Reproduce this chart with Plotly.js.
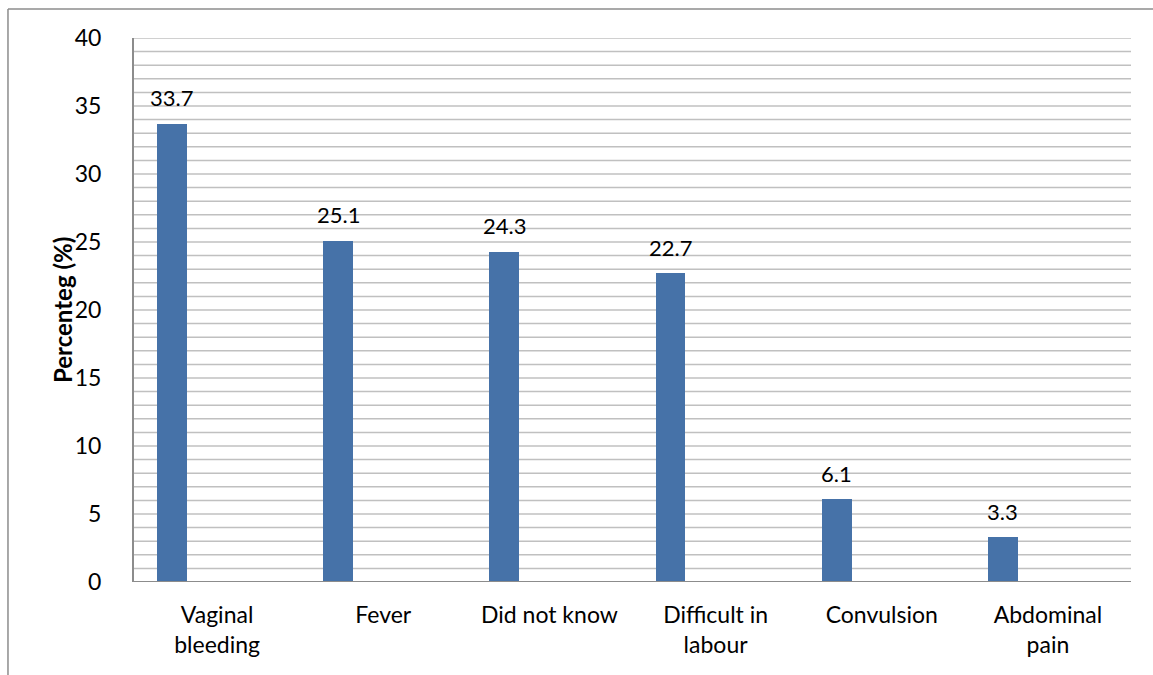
<!DOCTYPE html>
<html><head><meta charset="utf-8">
<script src="https://cdn.plot.ly/plotly-3.0.1.min.js"></script>
<style>html,body{margin:0;padding:0;background:#fff}#chart{width:1153px;height:675px}</style>
</head><body><div id="chart"></div>
<script>
const categories = ["Vaginal<br>bleeding", "Fever", "Did not know", "Difficult in<br>labour", "Convulsion", "Abdominal<br>pain"];
const values = [33.7, 25.1, 24.3, 22.7, 6.1, 3.3];
const labels = ["33.7", "25.1", "24.3", "22.7", "6.1", "3.3"];
const yTicks = [0, 5, 10, 15, 20, 25, 30, 35, 40];
const yTitle = "Percenteg (%)";

const font = "Lato, 'Open Sans', sans-serif";
const W = 0.1805, OFF = -0.3616;

const trace = {
  type: "bar", x: categories, y: values,
  width: W, offset: OFF,
  marker: {color: "#4672A8", line: {width: 0}},
  hoverinfo: "none"
};

const annotations = categories.map((c, i) => ({
  x: c, y: values[i], xref: "x", yref: "y",
  text: labels[i], showarrow: false,
  xshift: (OFF + W/2) * 997/6, yshift: 26,
  font: {family: font, size: 22, color: "#000"}
}));
annotations.push({
  xref: "paper", yref: "paper", x: -0.0722, y: 0.5, xanchor: "center", yanchor: "middle",
  text: "<b>" + yTitle + "</b>", textangle: -90, showarrow: false,
  font: {family: font, size: 24, color: "#000"}
});

const layout = {
  width: 1153, height: 675,
  margin: {l: 134, r: 22, t: 38, b: 93},
  paper_bgcolor: "#fff", plot_bgcolor: "#fff",
  showlegend: false, bargap: 0,
  font: {family: font, color: "#000"},
  xaxis: {
    type: "category", showgrid: false, zeroline: false,
    showline: false, ticks: "", ticklabelstandoff: 17,
    tickfont: {family: font, size: 23, color: "#000"},
    range: [-0.5, 5.5]
  },
  yaxis: {
    range: [0, 40], tickvals: yTicks, ticktext: yTicks.map(String),
    showgrid: false, zeroline: false, showline: true,
    linecolor: "#8c8c8c", linewidth: 2, ticks: "",
    ticklabelstandoff: 26,
    tickfont: {family: font, size: 23, color: "#000"}
  },
  annotations: annotations,
  shapes: []
};

// minor gridlines every 1 unit
for (let v = 1; v <= 40; v++) {
  layout.shapes.push({type: "line", xref: "paper", yref: "y", x0: 0, x1: 1, y0: v, y1: v,
    line: {color: "#c0c0c0", width: 1.5}, layer: "below"});
}
// x axis line
layout.shapes.push({type: "line", xref: "paper", yref: "y", x0: 0, x1: 1, y0: 0, y1: 0,
  line: {color: "#8c8c8c", width: 2}});
// outer frame (top and left)
layout.shapes.push({type: "line", xref: "paper", yref: "paper", x0: -0.1264, x1: 1.03, y0: 1.0533, y1: 1.0533,
  line: {color: "#8c8c8c", width: 1.5}});
layout.shapes.push({type: "line", xref: "paper", yref: "paper", x0: -0.1264, x1: -0.1264, y0: 1.0533, y1: -0.2,
  line: {color: "#8c8c8c", width: 1.5}});

Plotly.newPlot("chart", [trace], layout, {staticPlot: true, displayModeBar: false});
</script></body></html>
